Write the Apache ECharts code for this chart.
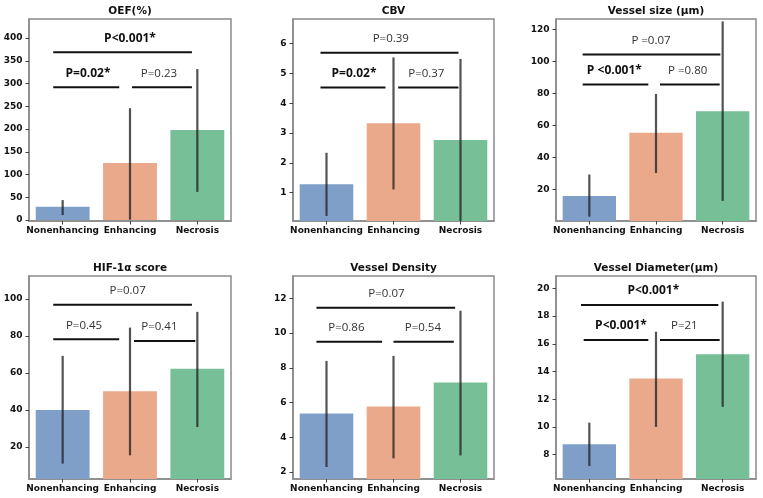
<!DOCTYPE html>
<html>
<head>
<meta charset="utf-8">
<script src="https://cdn.jsdelivr.net/npm/echarts@6/dist/echarts.min.js"></script>
<style>
  html, body { margin: 0; padding: 0; background: #fff; }
  #chart { width: 763px; height: 498px; }
</style>
</head>
<body>
<div id="chart"></div>
<script>
/* 数据 */
const categories = ['Nonenhancing', 'Enhancing', 'Necrosis']
const titles = ['OEF(%)', 'CBV', 'Vessel size (µm)', 'HIF-1α score', 'Vessel Density', 'Vessel Diameter(µm)']

const means = [
  [29.4, 125.5, 198],
  [1.28, 3.33, 2.77],
  [16.0, 55.6, 69.0],
  [40.0, 50.2, 62.3],
  [5.37, 5.77, 7.15],
  [8.75, 13.49, 15.25],
]
const errLow = [
  [11, 1, 62],
  [0.22, 1.11, 0.05],
  [3.0, 30.3, 12.9],
  [11.0, 15.5, 30.8],
  [2.29, 2.79, 2.96],
  [7.18, 10.0, 11.45],
]
const errHigh = [
  [44, 246, 332],
  [2.34, 5.54, 5.49],
  [29.4, 79.8, 125.2],
  [69.3, 84.6, 93.1],
  [8.40, 8.69, 11.29],
  [10.31, 16.87, 19.04],
]

const yMin = [-2, 0.05, 0.3, 2.7, 1.6, 6.24]
const yMax = [442, 6.83, 126.7, 112.5, 13.29, 20.89]
const yTicks = [
  [0, 50, 100, 150, 200, 250, 300, 350, 400],
  [1, 2, 3, 4, 5, 6],
  [20, 40, 60, 80, 100, 120],
  [20, 40, 60, 80, 100],
  [2, 4, 6, 8, 10, 12],
  [8, 10, 12, 14, 16, 18, 20],
]

// 显著性标注：[x起点, x终点, y]（x 以类别序号计）
const brackets = [
  [[-0.14, 1.92, 369], [-0.14, 0.84, 292], [1.03, 1.92, 292]],
  [[-0.09, 1.97, 5.70], [-0.09, 0.88, 4.53], [1.07, 1.97, 4.53]],
  [[-0.10, 1.965, 104.5], [-0.10, 0.885, 85.7], [1.06, 1.955, 85.7]],
  [[-0.14, 1.92, 96.9], [-0.14, 0.84, 78.3], [1.06, 1.97, 77.4]],
  [[-0.15, 1.92, 11.46], [-0.15, 0.83, 9.5], [1.0, 1.9, 9.5]],
  [[-0.125, 1.935, 18.8], [-0.085, 0.885, 16.27], [1.06, 1.955, 16.27]],
]
const pTexts = [
  ['P<0.001*', 'P=0.02*', 'P=0.23'],
  ['P=0.39', 'P=0.02*', 'P=0.37'],
  ['P =0.07', 'P <0.001*', 'P =0.80'],
  ['P=0.07', 'P=0.45', 'P=0.41'],
  ['P=0.07', 'P=0.86', 'P=0.54'],
  ['P<0.001*', 'P<0.001*', 'P=21'],
]
// 文字中心（类别序号）
const pTextX = [
  [1.0, 0.376, 1.43],
  [0.96, 0.41, 1.49],
  [0.925, 0.375, 1.475],
  [0.965, 0.317, 1.436],
  [0.895, 0.297, 1.438],
  [0.96, 0.475, 1.425],
]
const pBold = [
  [true, true, false],
  [false, true, false],
  [false, true, false],
  [false, false, false],
  [false, false, false],
  [true, true, false],
]

/* 布局 */
const boxes = [
  [29, 19, 202, 202], [293, 19, 201, 202], [556, 19, 200, 202],
  [29, 276, 202, 203], [293, 276, 201, 203], [556, 276, 200, 203],
]
const barColors = ['#7f9fc9', '#eaa98a', '#76bf97']
const frame = { show: true, onZero: false, lineStyle: { color: '#8a8a8a', width: 1.5 } }
const tickFont = { fontFamily: 'DejaVu Sans', fontWeight: 'bold', fontSize: 9, color: '#111' }

var myChart = echarts.init(document.getElementById('chart'), null, { renderer: 'canvas' })

const grid = [], xAxis = [], yAxis = [], series = [], graphic = []

boxes.forEach((b, i) => {
  grid.push({
    left: b[0], top: b[1], width: b[2], height: b[3],
    show: true, borderColor: '#8a8a8a', borderWidth: 1.5, backgroundColor: 'transparent',
  })
  // 类别轴
  xAxis.push({
    type: 'category', gridIndex: i, data: categories,
    axisLine: frame,
    axisTick: { show: true, alignWithLabel: true, length: 3.5, lineStyle: { color: '#444' } },
    axisLabel: Object.assign({ margin: 5, interval: 0 }, tickFont),
  })
  // 标注用的隐藏数值轴
  xAxis.push({ type: 'value', gridIndex: i, min: -0.5, max: 2.5, show: false, axisLine: { onZero: false } })
  yAxis.push({
    type: 'value', gridIndex: i, min: yMin[i], max: yMax[i],
    splitLine: { show: false },
    axisLine: frame,
    axisTick: { show: true, length: 3.5, customValues: yTicks[i], lineStyle: { color: '#444' } },
    axisLabel: Object.assign({ margin: 6.5, customValues: yTicks[i] }, tickFont),
  })

  series.push({
    type: 'bar', xAxisIndex: i * 2, yAxisIndex: i,
    barWidth: '80%',
    data: means[i].map((v, k) => ({ value: v, itemStyle: { color: barColors[k] } })),
  })

  series.push({
    type: 'custom', xAxisIndex: i * 2, yAxisIndex: i, z: 5,
    data: categories.map((c, k) => [k, errLow[i][k], errHigh[i][k]]),
    encode: { x: 0, y: [1, 2] },
    renderItem: (params, api) => {
      const p1 = api.coord([api.value(0), api.value(1)])
      const p2 = api.coord([api.value(0), api.value(2)])
      return {
        type: 'line',
        shape: { x1: p1[0], y1: p1[1], x2: p2[0], y2: p2[1] },
        style: { stroke: 'rgba(35,35,35,0.78)', lineWidth: 2.2 },
      }
    },
  })

  series.push({
    type: 'custom', xAxisIndex: i * 2 + 1, yAxisIndex: i, z: 6,
    data: brackets[i],
    encode: { x: [0, 1], y: 2 },
    renderItem: (params, api) => {
      const p1 = api.coord([api.value(0), api.value(2)])
      const p2 = api.coord([api.value(1), api.value(2)])
      const k = params.dataIndex
      const tx = api.coord([pTextX[i][k], api.value(2)])[0]
      const bold = pBold[i][k]
      return {
        type: 'group',
        children: [
          {
            type: 'line',
            shape: { x1: p1[0], y1: p1[1], x2: p2[0], y2: p2[1] },
            style: { stroke: '#111', lineWidth: 2 },
          },
          {
            type: 'text',
            x: tx, y: p1[1] - 14,
            style: {
              text: pTexts[i][k],
              fontFamily: 'Open Sans',
              fontWeight: bold ? 'bold' : 'normal',
              fontSize: bold ? 12 : 11.5,
              fill: bold ? '#111' : '#333',
              align: 'center', verticalAlign: 'middle',
            },
          },
        ],
      }
    },
  })

  graphic.push({
    type: 'text',
    x: b[0] + b[2] / 2, y: b[1] - 8,
    style: {
      text: titles[i], fontFamily: 'DejaVu Sans', fontWeight: 'bold', fontSize: 10.5,
      fill: '#111', align: 'center', verticalAlign: 'middle',
    },
  })
})

const option = {
  animation: false,
  grid: grid,
  xAxis: xAxis,
  yAxis: yAxis,
  series: series,
  graphic: graphic,
}
myChart.setOption(option)
</script>
</body>
</html>
